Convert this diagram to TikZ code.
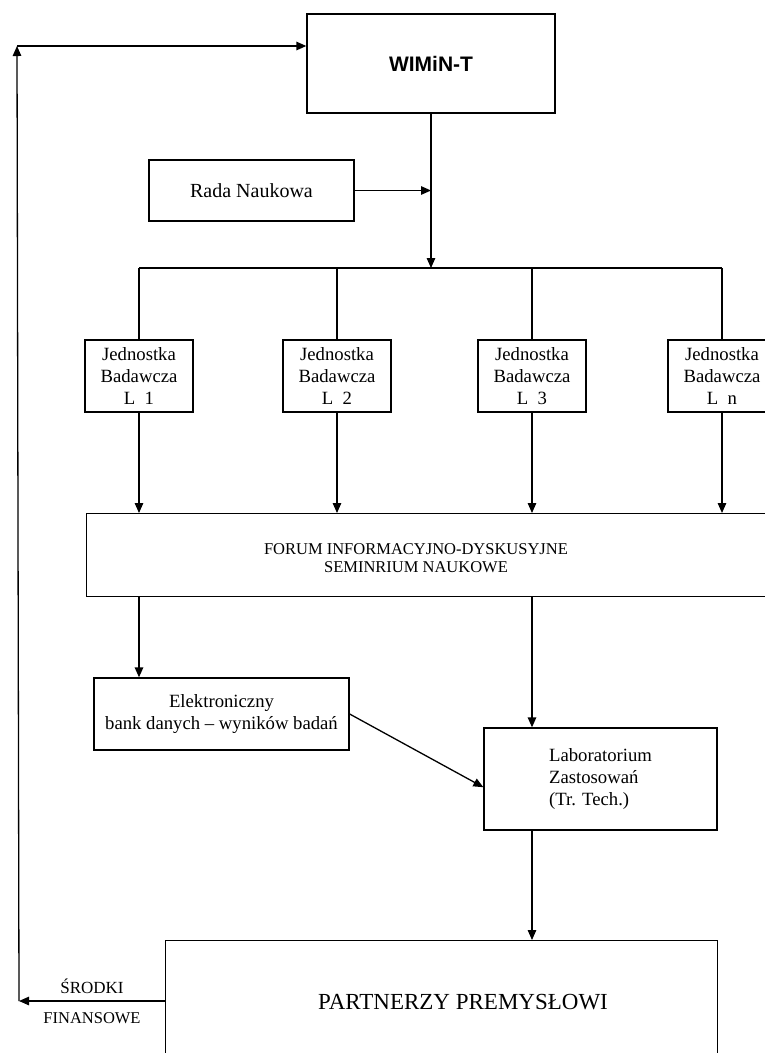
\documentclass[tikz,border=0pt]{standalone}
\usepackage{fontspec}
\setmainfont{Liberation Serif}
\newfontfamily\headfont{Liberation Sans}
\usetikzlibrary{arrows.meta,positioning}

\begin{document}
\begin{tikzpicture}[x=1pt,y=-1pt,
  box/.style={draw, line width=1.3pt, inner sep=0pt, align=center},
  link/.style={line width=1.3pt},
  arr/.style={line width=1.3pt, -{Triangle[length=10pt,width=8.5pt]}},
  txt/.style={font=\fontsize{18.7}{22}\selectfont, align=center},
  unit/.style={box, txt, minimum width=108pt, minimum height=72pt}]
\useasboundingbox (0,0) rectangle (765,1053);
% Top: WIMiN-T and council
\node[box, minimum width=248pt, minimum height=99pt, font=\headfont\bfseries\fontsize{21}{24}\selectfont] (wimin) at (431,63.5) {WIMiN-T};
\node[box, minimum width=205pt, minimum height=61pt, font=\fontsize{20}{24}\selectfont] (rada) at (251.5,190.5) {Rada Naukowa};
\coordinate (bus) at (431,268);
\draw[arr] (wimin.south) -- (bus);
\draw[arr] (rada.east) -- (rada.east -| bus);
% Research units
\foreach \n/\x/\l in {L1/139/1, L2/337/2, L3/532/3, Ln/722/n} {
  \node[unit] (\n) at (\x,376) {Jednostka\\Badawcza\\L~~\l};
  \draw[link] (\n.north) -- (\n.north |- bus);
}
\draw[link] (L1.north |- bus) -- (Ln.north |- bus);
% Forum
\node[box, minimum width=720pt, minimum height=83pt, anchor=north west] (forum) at (86,513) {};
\node[font=\fontsize{16.5}{18}\selectfont, align=center] (forumtxt) at (416,558) {FORUM INFORMACYJNO-DYSKUSYJNE\\SEMINRIUM NAUKOWE};
\foreach \n in {L1,L2,L3,Ln} {
  \draw[arr] (\n.south) -- (\n.south |- forum.north);
}
% Data bank and laboratory
\node[box, txt, minimum width=255pt, minimum height=72pt] (bank) at (221.5,714) {Elektroniczny\\bank danych -- wyników badań};
\node[box, txt, align=left, minimum width=233pt, minimum height=102pt] (lab) at (600.5,779) {Laboratorium\\Zastosowań\\(Tr. Tech.)};
\draw[arr] (L1 |- forum.south) -- (L1 |- bank.north);
\draw[arr] (L3 |- forum.south) -- (L3 |- lab.north);
\draw[arr] (bank.east) -- (lab.184);
% Partners
\node[box, minimum width=552pt, minimum height=130pt, anchor=north west] (partner) at (165,940) {};
\node[font=\fontsize{23}{26}\selectfont] (partnertxt) at (463,1002) {PARTNERZY PREMYSŁOWI};
\draw[arr] (L3 |- lab.south) -- (L3 |- partner.north);
% Funds back to WIMiN-T
\coordinate (fin) at (19,1001);
\coordinate (ret) at (17,46);
\draw[arr] (partner.west |- fin) -- node[above=3pt, font=\fontsize{17}{19}\selectfont] (srodki) {ŚRODKI}
  node[below=8pt, font=\fontsize{16.5}{18}\selectfont] (finanse) {FINANSOWE} (fin);
\draw[arr] (fin) -- (ret);
\draw[arr] (ret) -- (ret -| wimin.west);
\end{tikzpicture}
\end{document}
